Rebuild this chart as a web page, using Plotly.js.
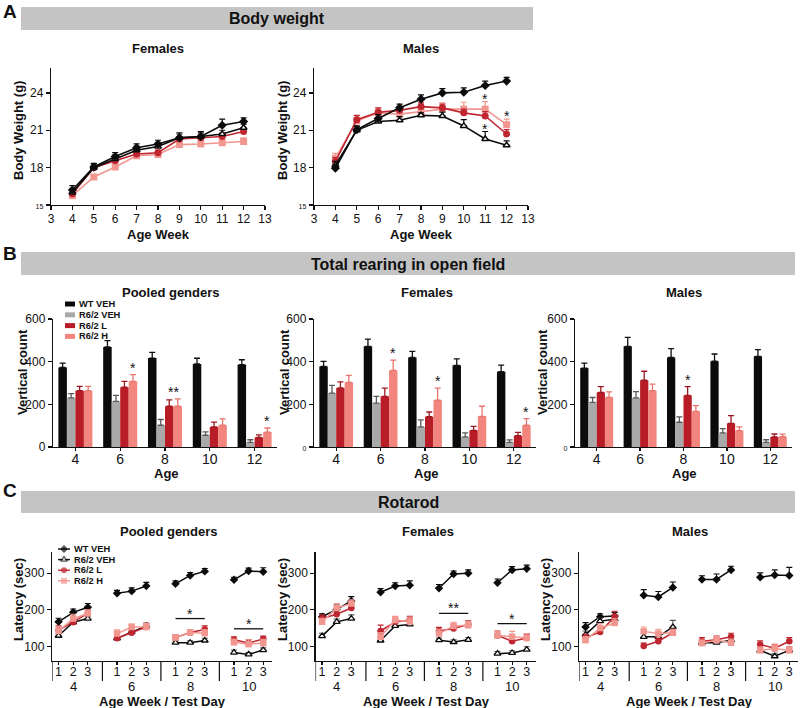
<!DOCTYPE html>
<html>
<head>
<meta charset="utf-8">
<script src="https://cdn.plot.ly/plotly-3.0.1.min.js"></script>
<style>
  html, body { margin: 0; padding: 0; background: #fff; }
  #plot { width: 800px; height: 708px; }
</style>
</head>
<body>
<div id="plot"></div>
<script>
const W = 800, H = 708;
const FONT = "Arial, 'Liberation Sans', sans-serif";

const seriesNames = ["WT VEH", "R6/2 VEH", "R6/2 L", "R6/2 H"];
const barColors = ["#0b0b0b", "#a9a9a9", "#b81d27", "#f2857d"];
const errColors = ["#111111", "#5a5a5a", "#9c1820", "#e8766e"];
const lineColors = ["#0b0b0b", "#0b0b0b", "#bf2630", "#f29790"];
const symbols = ["diamond", "triangle-up", "circle", "square"];

// ---- A: body weight (g) by age week
const weeks = [4, 5, 6, 7, 8, 9, 10, 11, 12];
const bwF_wt  = [16.2, 18.05, 18.9, 19.6, 19.9, 20.4, 20.5, 21.4, 21.7];
const bwF_veh = [16.0, 18.0, 18.7, 19.4, 19.7, 20.4, 20.5, 20.7, 21.2];
const bwF_l   = [15.9, 18.0, 18.55, 19.1, 19.2, 20.3, 20.4, 20.5, 20.9];
const bwF_h   = [15.75, 17.25, 18.05, 18.95, 19.05, 19.85, 19.9, 20.0, 20.1];
const bwF_wt_e  = [0.35, 0.3, 0.3, 0.3, 0.3, 0.4, 0.4, 0.5, 0.3];
const bwF_veh_e = [0.3, 0.3, 0.3, 0.3, 0.3, 0.3, 0.3, 0.3, 0.3];
const bwF_l_e   = [0.3, 0.2, 0.3, 0.2, 0.2, 0.2, 0.3, 0.3, 0.3];
const bwF_h_e   = [0.3, 0.2, 0.2, 0.2, 0.2, 0.2, 0.2, 0.2, 0.3];

const bwM_wt  = [17.95, 21.05, 21.95, 22.8, 23.5, 24.0, 24.05, 24.6, 24.95];
const bwM_veh = [18.2, 21.0, 21.7, 21.8, 22.2, 22.15, 21.35, 20.3, 19.8];
const bwM_l   = [18.5, 21.85, 22.45, 22.6, 22.9, 22.8, 22.4, 22.15, 20.7];
const bwM_h   = [18.75, 21.75, 22.4, 22.3, 22.5, 22.7, 22.7, 22.7, 21.45];
const bwM_wt_e  = [0.3, 0.3, 0.3, 0.3, 0.35, 0.35, 0.35, 0.35, 0.3];
const bwM_veh_e = [0.3, 0.3, 0.3, 0.3, 0.2, 0.3, 0.5, 0.6, 0.35];
const bwM_l_e   = [0.3, 0.35, 0.35, 0.3, 0.3, 0.3, 0.3, 0.35, 0.35];
const bwM_h_e   = [0.4, 0.4, 0.4, 0.4, 0.4, 0.5, 0.55, 0.6, 0.45];
const bwM_sig = [{ week: 11, series: 3 }, { week: 11, series: 1 }, { week: 12, series: 3 }];

// ---- B: total rearing (vertical count)
const ages = ["4", "6", "8", "10", "12"];
const rpP_wt  = [373, 469, 417, 389, 386], rpP_wt_e  = [20, 30, 27, 27, 23];
const rpP_veh = [230, 214, 102, 55, 22],   rpP_veh_e = [20, 28, 27, 16, 12];
const rpP_l   = [264, 280, 191, 94, 45],   rpP_l_e   = [20, 28, 30, 23, 12];
const rpP_h   = [264, 308, 191, 102, 70],  rpP_h_e   = [20, 31, 35, 30, 19];
const rpF_wt  = [378, 472, 420, 383, 353], rpF_wt_e  = [23, 34, 28, 30, 31];
const rpF_veh = [253, 206, 94, 47, 22],    rpF_veh_e = [36, 31, 33, 19, 11];
const rpF_l   = [277, 237, 142, 78, 53],   rpF_l_e   = [28, 39, 22, 19, 16];
const rpF_h   = [303, 359, 220, 144, 102], rpF_h_e   = [33, 48, 56, 47, 31];
const rpM_wt  = [370, 472, 420, 402, 425], rpM_wt_e  = [23, 42, 41, 34, 31];
const rpM_veh = [209, 230, 116, 66, 22],   rpM_veh_e = [23, 30, 25, 20, 12];
const rpM_l   = [256, 313, 242, 111, 47],  rpM_l_e   = [27, 42, 41, 36, 14];
const rpM_h   = [233, 264, 167, 77, 48],   rpM_h_e   = [25, 31, 27, 17, 12];
const rpP_sig = [{ age: "6", bars: [3], text: "*" }, { age: "8", bars: [2, 3], text: "**" }, { age: "12", bars: [3], text: "*" }];
const rpF_sig = [{ age: "6", bars: [3], text: "*" }, { age: "8", bars: [3], text: "*" }, { age: "12", bars: [3], text: "*" }];
const rpM_sig = [{ age: "8", bars: [2], text: "*" }];

// ---- C: rotarod latency (sec), 3 test days per age week
const rotAges = [4, 6, 8, 10];
const days = [1, 2, 3];
const roP_wt  = [167, 193, 207, 245, 251, 265, 271, 294, 305, 282, 306, 304];
const roP_veh = [129, 166, 176, 122, 140, 156, 110, 110, 116, 83, 78, 90];
const roP_l   = [144, 166, 190, 122, 137, 153, 124, 138, 146, 118, 109, 120];
const roP_h   = [142, 176, 190, 135, 153, 153, 124, 138, 136, 111, 106, 109];
const roP_wt_e  = [10, 9, 10, 8, 9, 10, 8, 8, 8, 7, 8, 11];
const roP_veh_e = [6, 6, 6, 6, 6, 8, 5, 5, 6, 7, 5, 6];
const roP_l_e   = [12, 10, 10, 8, 8, 8, 8, 8, 10, 8, 9, 8];
const roP_h_e   = [12, 12, 10, 10, 8, 10, 8, 8, 10, 9, 12, 10];
const roF_wt  = [181, 201, 224, 248, 265, 267, 259, 298, 300, 274, 309, 312];
const roF_veh = [128, 167, 176, 116, 156, 160, 117, 112, 118, 80, 82, 91];
const roF_l   = [176, 188, 205, 142, 167, 172, 142, 149, 160, 130, 114, 123];
const roF_h   = [167, 205, 217, 126, 172, 168, 135, 156, 158, 130, 126, 123];
const roF_wt_e  = [8, 12, 12, 10, 9, 12, 10, 8, 9, 10, 9, 10];
const roF_veh_e = [8, 8, 10, 6, 6, 8, 6, 6, 6, 6, 6, 8];
const roF_l_e   = [10, 12, 10, 16, 10, 10, 10, 10, 10, 12, 10, 10];
const roF_h_e   = [10, 12, 10, 12, 10, 12, 12, 10, 10, 12, 15, 12];
const roM_wt  = [153, 181, 183, 240, 235, 261, 283, 283, 309, 289, 295, 294];
const roM_veh = [132, 169, 174, 126, 126, 153, 110, 110, 117, 89, 73, 89];
const roM_l   = [124, 139, 181, 101, 114, 137, 114, 118, 126, 105, 95, 114];
const roM_h   = [117, 150, 164, 141, 135, 137, 109, 117, 110, 89, 94, 89];
const roM_wt_e  = [12, 8, 10, 15, 15, 15, 10, 15, 10, 12, 14, 22];
const roM_veh_e = [10, 8, 10, 10, 10, 18, 8, 8, 10, 8, 8, 10];
const roM_l_e   = [10, 8, 15, 8, 8, 10, 10, 10, 10, 10, 10, 10];
const roM_h_e   = [10, 12, 12, 12, 12, 10, 8, 10, 10, 10, 12, 10];
const roP_sig = [{ age: 8, text: "*" }, { age: 10, text: "*" }];
const roF_sig = [{ age: 8, text: "**" }, { age: 10, text: "*" }];

// paper coords from pixels
const px = x => x / W;
const py = y => 1 - y / H;
const zeros = a => a.map(() => 0);
const small = t => '<span style="font-size:7px">' + t + '</span>';

const traces = [];
const annotations = [];
const shapes = [];

function txt(x, y, text, size, extra) {
  annotations.push(Object.assign({
    xref: "paper", yref: "paper", x: px(x), y: py(y), text: text, showarrow: false,
    font: { family: FONT, size: size, color: "#111", weight: "bold" },
    xanchor: "center", yanchor: "middle", borderpad: 0
  }, extra || {}));
}

function axisBase(extra) {
  return Object.assign({
    showline: true, linecolor: "#111", linewidth: 1.2,
    ticks: "outside", ticklen: 4, tickwidth: 1.2, tickcolor: "#111",
    showgrid: false, zeroline: false, fixedrange: true,
    tickfont: { family: FONT, size: 12, color: "#111" }
  }, extra);
}

// ---- A traces
function addBW(vals, errs, xa, ya, sig) {
  [3, 2, 1, 0].forEach(i => {
    traces.push({
      type: "scatter", mode: "lines+markers", x: weeks, y: vals[i], xaxis: xa, yaxis: ya,
      line: { color: lineColors[i], width: 1.6 },
      marker: { symbol: symbols[i], size: i === 1 ? 6 : 7, color: i === 1 ? "#fff" : lineColors[i],
                line: { width: i === 1 ? 1.5 : 0, color: lineColors[i] } },
      error_y: { type: "data", symmetric: false, array: errs[i], arrayminus: zeros(errs[i]),
                 color: lineColors[i], thickness: 1.2, width: 3 },
      showlegend: false, hoverinfo: "skip"
    });
  });
  (sig || []).forEach(s => {
    const k = weeks.indexOf(s.week);
    annotations.push({
      xref: xa, yref: ya, x: s.week, y: vals[s.series][k] + errs[s.series][k], text: "*",
      showarrow: false, yanchor: "bottom", yshift: -7,
      font: { family: FONT, size: 14, color: "#111" }
    });
  });
}
addBW([bwF_wt, bwF_veh, bwF_l, bwF_h], [bwF_wt_e, bwF_veh_e, bwF_l_e, bwF_h_e], "x", "y");
addBW([bwM_wt, bwM_veh, bwM_l, bwM_h], [bwM_wt_e, bwM_veh_e, bwM_l_e, bwM_h_e], "x2", "y2", bwM_sig);

// ---- B traces
const BARGAP = 0.24;
const barOffset = i => (i - 1.5) * (1 - BARGAP) / 4;
function addRear(vals, errs, xa, ya, sig) {
  vals.forEach((v, i) => {
    traces.push({
      type: "bar", x: ages, y: v, xaxis: xa, yaxis: ya,
      marker: { color: barColors[i], line: { width: 0 } },
      error_y: { type: "data", symmetric: false, array: errs[i], arrayminus: zeros(errs[i]),
                 color: errColors[i], thickness: 1.3, width: 3 },
      showlegend: false, hoverinfo: "skip"
    });
  });
  sig.forEach(s => {
    const k = ages.indexOf(s.age);
    const top = Math.max(...s.bars.map(b => vals[b][k] + errs[b][k]));
    const xc = k + s.bars.reduce((a, b) => a + barOffset(b), 0) / s.bars.length;
    annotations.push({
      xref: xa, yref: ya, x: xc, y: top, text: s.text, showarrow: false,
      yanchor: "bottom", yshift: -3, font: { family: FONT, size: 14, color: "#111" }
    });
  });
}
addRear([rpP_wt, rpP_veh, rpP_l, rpP_h], [rpP_wt_e, rpP_veh_e, rpP_l_e, rpP_h_e], "x3", "y3", rpP_sig);
addRear([rpF_wt, rpF_veh, rpF_l, rpF_h], [rpF_wt_e, rpF_veh_e, rpF_l_e, rpF_h_e], "x4", "y4", rpF_sig);
addRear([rpM_wt, rpM_veh, rpM_l, rpM_h], [rpM_wt_e, rpM_veh_e, rpM_l_e, rpM_h_e], "x5", "y5", rpM_sig);

// ---- C traces
const step = days.length + 1;
const groupX = g => days.map(d => g * step + d);
const dayTickVals = rotAges.flatMap((a, g) => groupX(g));
const dayTickText = rotAges.flatMap(() => days.map(String));
function addRot(vals, errs, xa, ya, sig) {
  rotAges.forEach((age, g) => {
    [0, 1, 2, 3].forEach(i => {
      const sl = v => v.slice(g * days.length, (g + 1) * days.length);
      traces.push({
        type: "scatter", mode: "lines+markers", x: groupX(g), y: sl(vals[i]), xaxis: xa, yaxis: ya,
        line: { color: lineColors[i], width: 1.5 },
        marker: { symbol: symbols[i], size: i === 1 ? 6 : 6.5, color: i === 1 ? "#fff" : lineColors[i],
                  line: { width: i === 1 ? 1.3 : 0, color: lineColors[i] } },
        error_y: { type: "data", symmetric: false, array: sl(errs[i]), arrayminus: zeros(sl(errs[i])),
                   color: i === 1 ? "#555" : lineColors[i], thickness: 1.1, width: 3 },
        showlegend: false, hoverinfo: "skip"
      });
    });
    // group label under the day ticks
    annotations.push({
      xref: xa, yref: "paper", x: g * step + (days.length + 1) / 2, y: py(686), text: String(age),
      showarrow: false, yanchor: "middle", borderpad: 0, font: { family: FONT, size: 13, color: "#111" }
    });
  });
  (sig || []).forEach(s => {
    const g = rotAges.indexOf(s.age);
    let top = 0;
    [2, 3].forEach(i => days.forEach((d, j) => {
      const k = g * days.length + j;
      top = Math.max(top, vals[i][k] + errs[i][k]);
    }));
    const xs = groupX(g);
    const yl = top + 20;
    shapes.push({ type: "line", xref: xa, yref: ya, x0: xs[0], x1: xs[xs.length - 1], y0: yl, y1: yl,
                  line: { color: "#111", width: 1.3 } });
    annotations.push({
      xref: xa, yref: ya, x: xs[1], y: yl, text: s.text, showarrow: false,
      yanchor: "bottom", yshift: -5, font: { family: FONT, size: 14, color: "#111" }
    });
  });
}
addRot([roP_wt, roP_veh, roP_l, roP_h], [roP_wt_e, roP_veh_e, roP_l_e, roP_h_e], "x6", "y6", roP_sig);
addRot([roF_wt, roF_veh, roF_l, roF_h], [roF_wt_e, roF_veh_e, roF_l_e, roF_h_e], "x7", "y7", roF_sig);
addRot([roM_wt, roM_veh, roM_l, roM_h], [roM_wt_e, roM_veh_e, roM_l_e, roM_h_e], "x8", "y8", null);

const ROT_RANGE = [0.55, 15.6];
["x6", "x7", "x8"].forEach(xa => {
  [ROT_RANGE[0]].concat(rotAges.slice(1).map((a, g) => (g + 1) * step)).forEach(xv => {
    shapes.push({ type: "line", xref: xa, yref: "paper", x0: xv, x1: xv, y0: py(661), y1: py(681),
                  line: { color: "#111", width: 1.2 } });
  });
});

// ---- legends on a hidden pixel-space overlay axis
seriesNames.forEach((name, i) => {
  const yb = 304 + i * 10.8;
  traces.push({ type: "scatter", mode: "lines", x: [65, 75], y: [yb, yb], xaxis: "x9", yaxis: "y9",
                line: { color: barColors[i], width: 5 }, showlegend: false, hoverinfo: "skip" });
  txt(78, yb, name, 9.3, { xanchor: "left" });
  const yc = 549 + i * 10.6;
  traces.push({ type: "scatter", mode: "lines+markers", x: [58, 64, 70], y: [yc, yc, yc], xaxis: "x9", yaxis: "y9",
                line: { color: lineColors[i], width: 1.4 },
                marker: { symbol: symbols[i], size: [0, 6, 0], color: i === 1 ? "#fff" : lineColors[i],
                          line: { width: i === 1 ? 1.2 : 0, color: lineColors[i] } },
                showlegend: false, hoverinfo: "skip" });
  txt(73, yc, name, 9.3, { xanchor: "left" });
});

// ---- banners, headings, axis titles
[[21, 533, 7, 30], [21, 795, 252, 275], [21, 795, 491, 513]].forEach(b => {
  shapes.push({ type: "rect", xref: "paper", yref: "paper", x0: px(b[0]), x1: px(b[1]), y0: py(b[3]), y1: py(b[2]),
                fillcolor: "#c4c4c4", line: { width: 0 }, layer: "below" });
});
txt(10, 12, "A", 19); txt(10, 253, "B", 19); txt(10, 490, "C", 19);
txt(277, 18.5, "Body weight", 16);
txt(408, 264, "Total rearing in open field", 16);
txt(408, 502, "Rotarod", 16);

txt(158, 48, "Females", 13); txt(421, 48, "Males", 13);
txt(171, 293, "Pooled genders", 13); txt(427, 293, "Females", 13); txt(684, 293, "Males", 13);
txt(169, 531, "Pooled genders", 13); txt(428, 531, "Females", 13); txt(690, 531, "Males", 13);

txt(158, 234, "Age Week", 13); txt(421, 234, "Age Week", 13);
txt(18, 131, "Body Weight (g)", 13, { textangle: -90 });
txt(282, 131, "Body Weight (g)", 13, { textangle: -90 });
txt(166, 473, "Age", 13); txt(426, 473, "Age", 13); txt(684, 473, "Age", 13);
txt(22, 372, "Vertical count", 13, { textangle: -90 });
txt(284, 372, "Vertical count", 13, { textangle: -90 });
txt(542, 372, "Vertical count", 13, { textangle: -90 });
txt(162, 701.5, "Age Week / Test Day", 13); txt(426, 701.5, "Age Week / Test Day", 13); txt(689, 701.5, "Age Week / Test Day", 13);
txt(18, 600, "Latency (sec)", 13, { textangle: -90 });
txt(282, 600, "Latency (sec)", 13, { textangle: -90 });
txt(545, 600, "Latency (sec)", 13, { textangle: -90 });

// ---- axes
const bwY = { range: [15, 26], tickvals: [15, 18, 21, 24], ticktext: [small("15"), "18", "21", "24"] };
const bwX = { range: [3, 13], tickvals: [3, 4, 5, 6, 7, 8, 9, 10, 11, 12, 13], ticklabelstandoff: -2 };
const rearX = { type: "category", range: [-0.5, 4.5], ticklen: 3, ticklabelstandoff: -4,
                tickfont: { family: FONT, size: 14, color: "#111" } };
const rearY = small0 => ({ range: [0, 600], tickvals: [0, 200, 400, 600],
                           ticktext: [small0 ? small("0") : "0", "200", "400", "600"] });
const rotX = { range: ROT_RANGE, tickvals: dayTickVals, ticktext: dayTickText, ticklen: 3, ticklabelstandoff: -4,
               tickfont: { family: FONT, size: 12.5, color: "#111" } };
const rotY = { range: [60, 358], tickvals: [100, 200, 300] };

const yA = [py(205), py(68)], yB = [py(447), py(319)], yC = [py(661), py(552)];

const layout = {
  width: W, height: H, margin: { l: 0, r: 0, t: 0, b: 0 },
  paper_bgcolor: "#fff", plot_bgcolor: "rgba(0,0,0,0)",
  font: { family: FONT, color: "#111" },
  showlegend: false, barmode: "group", bargap: BARGAP, bargroupgap: 0,
  xaxis:  axisBase(Object.assign({ domain: [px(51), px(265)], anchor: "y" }, bwX)),
  yaxis:  axisBase(Object.assign({ domain: yA, anchor: "x" }, bwY)),
  xaxis2: axisBase(Object.assign({ domain: [px(314), px(528)], anchor: "y2" }, bwX)),
  yaxis2: axisBase(Object.assign({ domain: yA, anchor: "x2" }, bwY)),
  xaxis3: axisBase(Object.assign({ domain: [px(53), px(277)], anchor: "y3" }, rearX)),
  yaxis3: axisBase(Object.assign({ domain: yB, anchor: "x3" }, rearY(false))),
  xaxis4: axisBase(Object.assign({ domain: [px(314), px(536)], anchor: "y4" }, rearX)),
  yaxis4: axisBase(Object.assign({ domain: yB, anchor: "x4" }, rearY(true))),
  xaxis5: axisBase(Object.assign({ domain: [px(575), px(792)], anchor: "y5" }, rearX)),
  yaxis5: axisBase(Object.assign({ domain: yB, anchor: "x5" }, rearY(true))),
  xaxis6: axisBase(Object.assign({ domain: [px(52), px(272)], anchor: "y6" }, rotX)),
  yaxis6: axisBase(Object.assign({ domain: yC, anchor: "x6" }, rotY)),
  xaxis7: axisBase(Object.assign({ domain: [px(315.5), px(535.5)], anchor: "y7" }, rotX)),
  yaxis7: axisBase(Object.assign({ domain: yC, anchor: "x7" }, rotY)),
  xaxis8: axisBase(Object.assign({ domain: [px(579), px(798)], anchor: "y8" }, rotX)),
  yaxis8: axisBase(Object.assign({ domain: yC, anchor: "x8" }, rotY)),
  xaxis9: { domain: [0, 1], range: [0, W], visible: false, fixedrange: true, anchor: "y9" },
  yaxis9: { domain: [0, 1], range: [H, 0], visible: false, fixedrange: true, anchor: "x9" },
  annotations: annotations,
  shapes: shapes
};

Plotly.newPlot("plot", traces, layout, { staticPlot: true, displayModeBar: false });
</script>
</body>
</html>
